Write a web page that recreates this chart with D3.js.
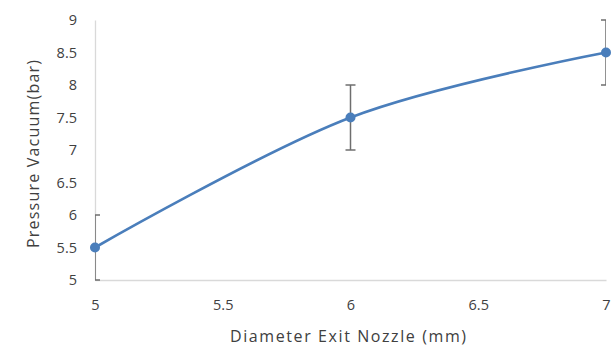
<!DOCTYPE html>
<html>
<head>
<meta charset="utf-8">
<script src="https://cdn.jsdelivr.net/npm/d3@7"></script>
<style>
  body { margin: 0; background: #fff; }
  svg text { font-family: "Open Sans", "DejaVu Sans", sans-serif; fill: #404040; }
</style>
</head>
<body>
<svg id="chart" width="614" height="347"></svg>
<script>
// data
let diameters = [5, 6, 7];
let pressures = [5.5, 7.5, 8.5];
let errors = [0.5, 0.5, 0.5];
let xTicks = [5, 5.5, 6, 6.5, 7];
let yTicks = [5, 5.5, 6, 6.5, 7, 7.5, 8, 8.5, 9];

let svg = d3.select('#chart');
let margin = {top: 20, right: 8, bottom: 67, left: 95};
let w = 614 - margin.left - margin.right;
let h = 347 - margin.top - margin.bottom;

let x = d3.scaleLinear().domain([5, 7]).range([0, w]);
let y = d3.scaleLinear().domain([5, 9]).range([h, 0]);

let g = svg.append('g').attr('transform', `translate(${margin.left},${margin.top})`);

svg.append('clipPath').attr('id', 'plotclip')
  .append('rect').attr('x', 0).attr('y', -10).attr('width', w).attr('height', h + 20);

//axes
let xAxis = g.append('g').attr('transform', `translate(0,${h})`)
  .call(d3.axisBottom(x).tickValues(xTicks).tickSize(0).tickPadding(20).tickFormat(d3.format('')));
let yAxis = g.append('g')
  .call(d3.axisLeft(y).tickValues(yTicks).tickSize(0).tickPadding(18).tickFormat(d3.format('')));

[xAxis, yAxis].forEach(a => {
  a.select('.domain').attr('stroke', '#d9d9d9').attr('stroke-width', 1.3);
  a.selectAll('text').style('font-size', '14.5px').attr('fill', '#404040');
});

//error bars
let eb = g.append('g').attr('clip-path', 'url(#plotclip)')
  .attr('stroke', '#6e6e6e').attr('stroke-width', 1.5).attr('fill', 'none');
diameters.forEach((d, i) => {
  let cx = x(d);
  let y1 = y(pressures[i] + errors[i]);
  let y2 = y(pressures[i] - errors[i]);
  eb.append('line').attr('x1', cx).attr('x2', cx).attr('y1', y1).attr('y2', y2);
  eb.append('line').attr('x1', cx - 5).attr('x2', cx + 5).attr('y1', y1).attr('y2', y1);
  eb.append('line').attr('x1', cx - 5).attr('x2', cx + 5).attr('y1', y2).attr('y2', y2);
});

//smoothed line
let pts = diameters.map((d, i) => [d, pressures[i]]);
g.append('path').datum(pts)
  .attr('d', d3.line().x(d => x(d[0])).y(d => y(d[1])).curve(d3.curveCardinal.tension(0)))
  .attr('fill', 'none').attr('stroke', '#4a7ebb').attr('stroke-width', 2.6);

g.selectAll('.dot').data(pts).enter().append('circle')
  .attr('cx', d => x(d[0])).attr('cy', d => y(d[1])).attr('r', 5)
  .attr('fill', '#4a7ebb');

//titles
svg.append('text').text('Diameter Exit Nozzle (mm)')
  .attr('x', 230).attr('y', 342).attr('textLength', 236).attr('lengthAdjust', 'spacing')
  .style('font-size', '16px');
svg.append('text').text('Pressure Vacuum(bar)')
  .attr('transform', 'translate(39,248) rotate(-90)').attr('textLength', 188).attr('lengthAdjust', 'spacing')
  .style('font-size', '16px');
</script>
</body>
</html>
